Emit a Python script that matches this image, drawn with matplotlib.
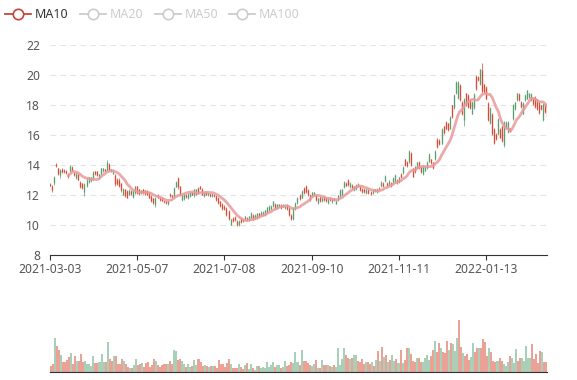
#--------------------------------------
# K线图 + MA10 + 成交量
#--------------------------------------
import numpy as np
import pandas as pd
import matplotlib
matplotlib.use("Agg")
import matplotlib.pyplot as plt
from matplotlib.lines import Line2D

plt.rcParams['font.family'] = ['Noto Sans', 'DejaVu Sans']

# Datos (precio y volumen por sesion)
opens = [12.70, 12.60, 12.75, 14.05, 13.75, 13.30, 13.70, 13.65, 13.60, 13.40,
         13.55, 13.85, 13.45, 13.10, 13.35, 12.85, 12.75, 12.20, 12.60, 12.85,
         12.90, 13.10, 13.55, 13.55, 13.10, 13.35, 13.55, 13.70, 13.65, 14.05,
         13.70, 13.40, 13.30, 13.05, 13.00, 12.75, 12.00, 12.35, 12.25, 12.00,
         12.25, 11.85, 12.10, 12.55, 12.35, 12.10, 12.35, 12.30, 12.25, 12.15,
         11.90, 11.75, 11.30, 12.00, 11.80, 11.80, 11.60, 11.55, 11.35, 12.05,
         11.95, 11.90, 12.50, 13.10, 12.55, 11.65, 11.70, 12.00, 11.75, 11.90,
         12.15, 11.95, 12.00, 12.45, 12.55, 12.40, 11.90, 12.15, 11.95, 12.05,
         11.90, 12.00, 11.90, 11.80, 11.55, 11.40, 11.25, 11.10, 10.90, 10.00,
         10.45, 10.50, 10.25, 9.95, 10.45, 10.35, 10.35, 10.45, 10.30, 10.45,
         10.65, 10.40, 10.45, 10.75, 10.60, 10.65, 10.65, 10.85, 10.95, 11.05,
         11.25, 11.40, 11.10, 11.20, 11.30, 11.15, 11.10, 11.30, 11.10, 10.65,
         10.40, 11.05, 11.45, 12.00, 11.80, 12.45, 12.55, 12.30, 12.00, 11.90,
         11.95, 11.95, 11.45, 11.85, 11.55, 11.85, 11.75, 11.45, 11.75, 11.50,
         11.75, 11.40, 11.65, 11.90, 12.00, 12.50, 12.80, 13.00, 12.50, 12.65,
         12.30, 12.35, 12.70, 12.55, 12.40, 12.35, 12.10, 12.30, 12.20, 12.10,
         12.35, 12.15, 12.45, 12.55, 12.80, 12.90, 12.80, 12.65, 12.80, 12.75,
         12.90, 13.00, 12.85, 13.40, 13.45, 14.35, 14.20, 14.15, 14.80, 13.75,
         13.85, 13.75, 14.20, 13.85, 13.35, 13.60, 13.75, 14.20, 14.35, 14.15,
         14.35, 15.70, 15.65, 15.40, 16.55, 16.85, 16.75, 16.40, 17.95, 17.75,
         18.75, 18.45, 19.30, 18.20, 17.00, 18.75, 18.65, 18.30, 17.40, 17.75,
         19.90, 19.85, 19.35, 20.30, 19.35, 19.20, 18.10, 16.75, 17.40, 16.40,
         16.05, 16.05, 16.40, 16.55, 15.30, 16.45, 16.15, 16.45, 17.05, 17.70,
         18.30, 18.70, 18.20, 17.40, 18.30, 18.40, 18.50, 18.30, 18.45, 18.50,
         18.35, 18.20, 17.95, 17.00, 18.05, 17.85]
closes = [12.60, 12.30, 13.20, 13.90, 13.40, 13.65, 13.50, 13.50, 13.45, 13.15,
          13.90, 13.60, 13.30, 13.45, 13.00, 12.50, 12.45, 12.70, 13.00, 13.15,
          13.15, 13.50, 13.35, 13.30, 13.35, 13.75, 13.75, 13.55, 14.20, 13.65,
          13.55, 13.60, 12.70, 12.70, 12.55, 12.30, 12.40, 11.90, 11.80, 12.30,
          12.05, 12.25, 12.55, 12.10, 12.05, 12.30, 12.10, 12.05, 12.00, 11.80,
          11.55, 11.45, 11.80, 11.80, 11.65, 11.60, 11.50, 11.45, 11.55, 11.90,
          11.85, 12.45, 12.85, 12.50, 12.00, 11.95, 12.05, 11.85, 12.05, 12.15,
          12.00, 12.35, 12.35, 12.10, 12.40, 12.00, 12.15, 12.00, 12.10, 11.90,
          12.05, 11.90, 11.65, 11.45, 11.25, 11.05, 11.05, 10.65, 10.35, 10.35,
          10.25, 10.30, 9.95, 10.25, 10.15, 10.25, 10.55, 10.30, 10.55, 10.80,
          10.35, 10.65, 10.75, 10.55, 10.85, 10.85, 10.95, 11.15, 11.25, 11.25,
          11.55, 11.10, 11.35, 11.35, 11.10, 11.30, 11.25, 11.05, 10.65, 10.35,
          11.10, 11.45, 11.80, 11.70, 12.25, 12.10, 12.15, 11.95, 11.65, 12.15,
          12.15, 11.65, 11.75, 11.55, 11.80, 11.65, 11.55, 11.70, 11.65, 11.70,
          11.65, 11.60, 11.95, 12.30, 12.35, 12.85, 12.60, 12.65, 12.80, 12.45,
          12.55, 12.65, 12.55, 12.30, 12.15, 12.15, 12.35, 12.10, 12.05, 12.30,
          12.25, 12.40, 12.35, 12.85, 12.55, 13.25, 12.60, 12.90, 12.55, 13.10,
          13.30, 12.75, 13.15, 13.15, 13.85, 13.95, 13.90, 14.90, 14.00, 13.20,
          13.50, 14.15, 13.75, 13.50, 13.90, 13.85, 14.20, 14.70, 14.10, 13.75,
          14.90, 15.15, 15.35, 16.40, 16.10, 16.40, 16.30, 17.20, 17.15, 18.65,
          19.50, 19.50, 18.30, 17.35, 18.40, 17.95, 17.85, 17.75, 18.20, 18.70,
          19.05, 19.65, 20.35, 18.90, 18.85, 18.40, 16.95, 17.80, 16.05, 15.45,
          15.70, 17.05, 15.80, 15.55, 16.85, 16.85, 16.85, 16.25, 18.00, 18.15,
          18.75, 18.30, 17.85, 18.10, 18.65, 18.95, 18.75, 18.70, 18.05, 17.85,
          17.70, 17.45, 17.70, 18.05, 17.50, 17.15]
lows = [12.55, 12.20, 12.67, 13.85, 13.30, 13.10, 13.45, 13.45, 13.40, 13.10,
        13.50, 13.55, 13.25, 13.05, 12.95, 12.45, 12.40, 11.90, 12.50, 12.80,
        12.85, 13.00, 13.30, 13.25, 13.05, 13.30, 13.50, 13.50, 13.60, 13.60,
        13.50, 13.35, 12.60, 12.65, 12.50, 12.20, 11.95, 11.85, 11.75, 11.95,
        12.00, 11.75, 12.05, 12.05, 12.00, 12.07, 12.07, 12.00, 11.95, 11.75,
        11.50, 11.40, 11.15, 11.75, 11.60, 11.55, 11.45, 11.40, 11.30, 11.85,
        11.80, 11.85, 12.50, 12.40, 11.95, 11.60, 11.65, 11.80, 11.70, 11.85,
        11.95, 11.85, 11.95, 12.05, 12.35, 11.95, 11.85, 11.95, 11.90, 11.85,
        11.85, 11.85, 11.60, 11.40, 11.20, 11.00, 11.00, 10.60, 10.30, 9.95,
        10.20, 10.25, 9.90, 9.90, 10.10, 10.20, 10.30, 10.25, 10.25, 10.40,
        10.30, 10.35, 10.40, 10.50, 10.55, 10.60, 10.60, 10.80, 10.90, 11.00,
        11.20, 11.05, 11.05, 11.20, 11.05, 11.15, 11.05, 11.00, 10.60, 10.30,
        10.30, 11.00, 11.40, 11.65, 11.75, 12.05, 12.10, 11.90, 11.60, 11.85,
        11.90, 11.60, 11.40, 11.50, 11.50, 11.60, 11.50, 11.40, 11.60, 11.45,
        11.60, 11.35, 11.60, 11.85, 11.95, 12.45, 12.55, 12.60, 12.45, 12.40,
        12.25, 12.30, 12.50, 12.25, 12.10, 12.10, 12.05, 12.05, 12.00, 12.05,
        12.20, 12.10, 12.30, 12.50, 12.50, 12.85, 12.55, 12.60, 12.50, 12.70,
        12.85, 12.70, 12.80, 13.10, 13.40, 13.90, 13.85, 14.10, 13.90, 13.15,
        13.45, 13.70, 13.70, 13.45, 13.30, 13.55, 13.70, 14.15, 14.05, 13.70,
        14.30, 15.10, 15.30, 15.35, 16.05, 16.35, 16.25, 16.35, 17.10, 17.70,
        18.70, 18.40, 18.25, 17.30, 16.60, 17.90, 17.80, 17.70, 17.35, 17.70,
        19.00, 19.58, 19.30, 18.80, 18.80, 18.35, 16.90, 16.70, 16.00, 15.40,
        15.65, 16.00, 15.75, 15.50, 15.20, 16.45, 16.10, 16.20, 17.00, 17.65,
        18.25, 18.25, 17.80, 17.35, 18.25, 18.35, 18.45, 18.25, 18.00, 17.80,
        17.65, 17.40, 17.65, 16.90, 17.45, 17.10]
highs = [12.75, 12.67, 13.25, 14.10, 13.80, 13.70, 13.75, 13.70, 13.62, 13.45,
         13.95, 13.90, 13.50, 13.50, 13.40, 12.90, 12.80, 12.80, 13.10, 13.20,
         13.20, 13.55, 13.60, 13.60, 13.40, 13.80, 13.80, 13.72, 14.30, 14.10,
         13.72, 13.65, 13.35, 13.10, 13.10, 12.80, 12.45, 12.40, 12.30, 12.35,
         12.30, 12.30, 12.60, 12.60, 12.40, 12.33, 12.40, 12.33, 12.30, 12.20,
         11.95, 11.80, 11.85, 12.05, 11.85, 11.85, 11.65, 11.60, 11.60, 12.10,
         12.00, 12.50, 12.90, 13.20, 12.60, 12.00, 12.10, 12.05, 12.10, 12.20,
         12.20, 12.40, 12.40, 12.50, 12.60, 12.45, 12.20, 12.20, 12.12, 12.10,
         12.10, 12.05, 11.95, 11.85, 11.60, 11.45, 11.30, 11.20, 11.00, 10.40,
         10.50, 10.55, 10.30, 10.30, 10.50, 10.40, 10.60, 10.50, 10.60, 10.85,
         10.70, 10.70, 10.80, 10.80, 10.90, 10.90, 11.00, 11.20, 11.30, 11.30,
         11.60, 11.45, 11.40, 11.40, 11.35, 11.35, 11.30, 11.35, 11.15, 10.70,
         11.20, 11.50, 11.85, 12.05, 12.30, 12.50, 12.67, 12.35, 12.05, 12.20,
         12.20, 12.00, 11.80, 11.90, 11.85, 11.90, 11.80, 11.75, 11.80, 11.75,
         11.80, 11.65, 12.00, 12.35, 12.40, 12.90, 12.85, 13.05, 12.85, 12.70,
         12.60, 12.70, 12.75, 12.60, 12.45, 12.40, 12.40, 12.35, 12.25, 12.35,
         12.40, 12.45, 12.50, 12.90, 12.85, 13.30, 12.85, 12.95, 12.85, 13.15,
         13.35, 13.05, 13.20, 13.45, 13.90, 14.40, 14.25, 15.00, 14.85, 13.80,
         13.90, 14.20, 14.25, 13.90, 13.95, 13.90, 14.25, 14.75, 14.40, 14.20,
         14.95, 15.75, 15.70, 16.45, 16.60, 16.90, 16.80, 17.25, 18.00, 18.70,
         19.55, 19.55, 19.35, 18.25, 18.45, 18.80, 18.70, 18.35, 18.25, 18.75,
         19.98, 19.88, 20.40, 20.80, 19.40, 19.25, 18.15, 17.85, 17.45, 16.45,
         16.10, 17.10, 16.45, 16.60, 16.90, 16.90, 16.90, 16.45, 18.05, 18.20,
         18.80, 18.75, 18.25, 18.15, 18.70, 19.00, 18.80, 18.75, 18.50, 18.55,
         18.40, 18.25, 18.00, 18.10, 18.10, 17.90]
volumes = [6, 8, 34, 26, 22, 17, 10, 10, 12, 15,
           19, 8, 16, 11, 11, 18, 10, 11, 8, 8,
           6, 16, 9, 9, 10, 18, 10, 10, 30, 13,
           11, 16, 16, 8, 8, 13, 11, 8, 5, 4,
           4, 7, 13, 7, 8, 9, 5, 9, 10, 5,
           7, 13, 11, 7, 5, 7, 8, 8, 8, 11,
           8, 22, 21, 12, 13, 11, 8, 5, 8, 5,
           6, 12, 7, 13, 10, 6, 7, 6, 5, 6,
           6, 6, 4, 12, 8, 8, 5, 9, 13, 8,
           4, 4, 4, 8, 5, 3, 7, 9, 3, 8,
           4, 2, 6, 6, 4, 5, 4, 10, 5, 7,
           10, 5, 7, 7, 4, 5, 11, 6, 7, 10,
           9, 20, 10, 7, 22, 11, 11, 9, 7, 6,
           8, 12, 4, 4, 12, 7, 7, 7, 6, 5,
           7, 5, 24, 7, 13, 24, 17, 14, 13, 14,
           17, 17, 11, 10, 13, 8, 10, 10, 8, 10,
           6, 12, 21, 11, 25, 15, 17, 10, 12, 17,
           11, 13, 9, 22, 9, 12, 24, 24, 18, 11,
           10, 14, 14, 10, 10, 14, 17, 12, 16, 22,
           31, 20, 29, 24, 20, 19, 31, 22, 29, 28,
           21, 34, 52, 25, 19, 16, 18, 12, 15, 29,
           20, 24, 24, 24, 33, 30, 16, 24, 20, 11,
           10, 11, 14, 11, 8, 6, 10, 16, 14, 9,
           23, 11, 14, 14, 11, 26, 14, 14, 28, 13,
           18, 9, 21, 20, 10, 10]
tick_labels = ["2021-03-03", "2021-05-07", "2021-07-08", "2021-09-10",
               "2021-11-11", "2022-01-13"]
legend_names = ["MA10", "MA20", "MA50", "MA100"]

n = len(closes)
x = np.arange(n)
o = np.array(opens)
c = np.array(closes)
sube = c >= o

rojo, verde = "#d94a35", "#5a9d6f"
colores = np.where(sube, verde, rojo)
colores_vol = np.where(sube, "#a9cfb8", "#eba296")

ma10 = pd.Series(closes).rolling(10).mean()

W, H = 577, 380
fig = plt.figure(figsize=(W / 100, H / 100), dpi=100)

def caja(x0, y0, x1, y1):
    return [x0 / W, 1 - y1 / H, (x1 - x0) / W, (y1 - y0) / H]

# Grafico de velas
ax = fig.add_axes(caja(50, 44.7, 547, 254.7))
ax.vlines(x, lows, highs, colors=colores, lw=0.5)
ax.vlines(x, o, c, colors=colores, lw=0.95)
ax.plot(x, ma10, color="#e89a9a", lw=2.0, alpha=0.85, solid_capstyle="round")
ax.set_xlim(0, n - 1)
ax.set_ylim(8, 22)
ax.set_yticks(np.arange(8, 23, 2))
for v in range(10, 23, 2):
    ax.axhline(v, color="#e0e3ea", lw=0.8, ls=(0, (5, 4)), zorder=0)
ax.set_xticks(np.arange(0, n, 43)[:len(tick_labels)])
ax.set_xticklabels(tick_labels)
for s in ["top", "right", "left"]:
    ax.spines[s].set_visible(False)
ax.spines["bottom"].set_color("#333333")
ax.tick_params(axis="y", length=0, pad=7, labelsize=8.7, labelcolor="#555555")
ax.tick_params(axis="x", length=3.6, color="#333333", pad=2.5,
               labelsize=8.7, labelcolor="#555555")

# Volumen
ax2 = fig.add_axes(caja(50, 300, 547, 372))
ax2.bar(x, volumes, width=1.0, color=colores_vol, edgecolor="none",
        antialiased=False)
ax2.set_xlim(-0.5, n - 0.5)
ax2.set_ylim(0, 72)
for s in ["top", "right", "left"]:
    ax2.spines[s].set_visible(False)
ax2.spines["bottom"].set_color("#333333")
ax2.set_xticks([])
ax2.set_yticks([])

# Leyenda
pos_icono = [5, 80, 155, 229]
for i, nombre in enumerate(legend_names):
    activo = i == 0
    col = "#c8453a" if activo else "#cccccc"
    x0 = pos_icono[i]
    yf = 1 - 14 / H
    fig.add_artist(Line2D([x0 / W, (x0 + 26) / W], [yf, yf], color=col, lw=1.3))
    fig.add_artist(Line2D([(x0 + 13) / W], [yf], marker="o", markersize=7.5,
                          markerfacecolor="white", markeredgecolor=col, mew=1.2))
    fig.text((x0 + 30) / W, yf, nombre, va="center", ha="left", fontsize=9,
             color="#333333" if activo else "#cccccc")

fig.savefig("out.png", dpi=100)
